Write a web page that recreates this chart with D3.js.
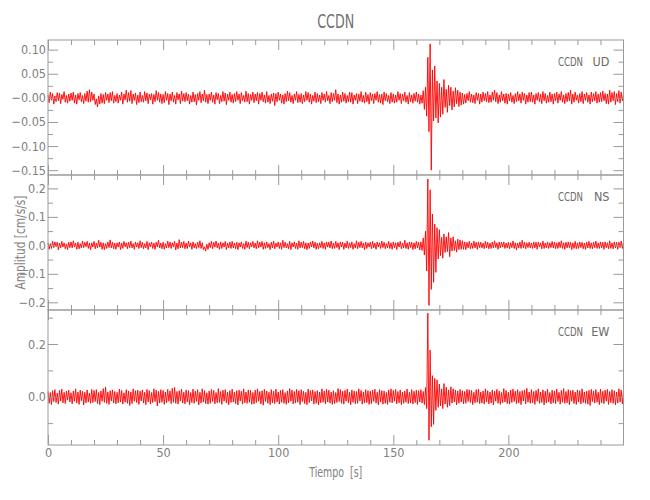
<!DOCTYPE html>
<html>
<head>
<meta charset="utf-8">
<script src="https://cdn.jsdelivr.net/npm/d3@7"></script>
<style>
  html, body { margin: 0; padding: 0; background: #fff; }
  svg { display: block; }
  text { font-family: "Liberation Sans Narrow", "Arial Narrow", "DejaVu Sans Condensed", "Liberation Sans", sans-serif; }
</style>
</head>
<body>
<svg id="chart" width="650" height="500"></svg>
<script>
// ---------------- DATA ----------------
const station = "CCDN";
const components = ["UD", "NS", "EW"];
const sampleInterval = 0.5;      // seconds between values
const valueUnit = 0.001;         // values below are in 0.001 cm/s/s
const timeDomain = [0, 250];
const xMajorTicks = [0, 50, 100, 150, 200];
const xTickLabels = ["0", "50", "100", "150", "200"];

const udValues = [
 6,-10,12,-5,9,-13,4,-8,11,-6,10,-12,7,-3,13,-9,5,-11,8,-7,
 10,-5,12,-11,6,-13,9,-4,11,-8,5,-12,9,-7,14,-9,17,-8,12,-5,
 8,-14,-2,-19,4,-13,9,-11,7,-12,11,-5,8,-10,11,-6,13,-11,5,-8,
 9,-11,6,-5,12,-13,8,-4,16,-9,11,-7,15,-12,8,-5,10,-14,6,-10,
 12,-8,5,-9,13,-6,10,-12,8,-4,9,-13,7,-8,15,-5,11,-9,8,-12,
 7,-10,13,-5,9,-14,8,-6,12,-9,5,-13,11,-4,8,-12,14,-7,9,-8,
 11,-6,8,-13,5,-9,12,-8,7,-15,9,-5,13,-10,8,-6,16,-9,7,-12,
 8,-5,12,-9,6,-13,11,-4,9,-12,5,-8,13,-7,10,-14,8,-5,12,-9,
 7,-11,9,-8,13,-5,8,-12,11,-6,5,-9,14,-8,9,-13,7,-5,12,-10,
 8,-6,11,-13,9,-5,12,-8,6,-11,13,-9,5,-12,8,-7,10,-16,9,-8,
 12,-5,8,-11,6,-13,9,-8,14,-6,11,-9,5,-12,8,-5,13,-10,7,-9,
 9,-12,6,-8,13,-5,11,-9,8,-13,5,-7,12,-10,9,-8,6,-12,11,-5,
 8,-9,13,-6,5,-12,11,-8,9,-5,17,-10,8,-13,6,-9,12,-7,9,-11,
 5,-8,12,-9,11,-13,6,-5,9,-12,8,-7,13,-9,5,-11,12,-8,7,-13,
 11,-6,8,-12,9,-5,13,-9,7,-11,8,-14,12,-6,9,-8,5,-12,11,-9,
 8,-11,6,-9,13,-5,9,-12,8,-6,12,-9,5,-13,11,-8,6,-11,9,-7,
 12,-9,8,-13,6,-11,15,-24,22,-38,84,-70,112,-150,58,-48,66,-42,35,-52,
 30,-40,22,-34,38,-20,18,-30,26,-16,22,-25,14,-19,21,-12,16,-18,12,-15,
 10,-13,7,-11,9,-6,13,-9,8,-10,6,-12,11,-5,9,-13,8,-9,12,-6,
 9,-8,13,-10,6,-9,12,-5,16,-8,11,-12,6,-9,13,-6,8,-11,9,-13,
 8,-6,11,-9,5,-12,9,-8,13,-6,8,-11,12,-5,9,-13,6,-9,11,-8,
 12,-9,6,-13,9,-5,11,-8,8,-12,13,-6,9,-11,5,-9,12,-8,8,-13,
 9,-6,12,-11,8,-5,13,-9,6,-12,9,-8,11,-6,16,-13,8,-9,12,-5,
 6,-11,9,-8,13,-12,8,-5,11,-9,6,-13,12,-8,9,-6,13,-11,8,-9,
 11,-8,14,-6,9,-12,8,-13,16,-9,11,-6,13,-14,9,-8,15,-11,12,-6,
 9
];

const nsValues = [
 9,-14,6,-11,15,-8,12,-5,11,-16,8,-9,14,-6,9,-12,5,-15,11,-8,
 12,-9,16,-6,8,-14,11,-12,6,-9,15,-8,11,-5,14,-11,8,-16,9,-6,
 14,-12,8,-9,18,-6,11,-14,9,-15,6,-11,12,-8,19,-9,11,-12,8,-14,
 9,-6,12,-15,8,-11,14,-5,9,-12,11,-8,15,-9,6,-14,12,-6,9,-11,
 16,-8,11,-12,6,-9,14,-15,9,-5,12,-11,8,-14,11,-6,18,-9,8,-12,
 11,-14,6,-9,15,-8,12,-11,9,-6,14,-16,8,-12,20,-9,11,-8,14,-12,
 8,-11,15,-6,9,-14,12,-9,6,-12,11,-8,16,-11,9,-15,-5,-20,4,-14,
 9,-8,14,-12,11,-6,15,-9,8,-14,12,-11,9,-6,14,-15,8,-9,12,-11,
 14,-9,8,-12,11,-15,9,-6,12,-11,6,-14,15,-8,11,-12,9,-5,14,-9,
 8,-12,16,-9,11,-6,14,-14,9,-11,12,-8,6,-15,11,-9,15,-12,8,-6,
 12,-11,9,-14,18,-8,11,-9,6,-12,14,-15,9,-6,12,-11,8,-14,16,-9,
 11,-8,14,-12,9,-15,8,-11,12,-6,15,-9,11,-14,8,-12,9,-8,14,-11,
 9,-14,12,-6,11,-9,15,-12,8,-11,14,-8,9,-15,12,-6,11,-14,8,-9,
 15,-11,9,-8,12,-14,6,-9,16,-12,11,-8,14,-9,8,-15,12,-11,9,-6,
 11,-12,14,-9,8,-14,12,-6,9,-11,15,-8,11,-12,6,-9,14,-11,9,-14,
 12,-8,9,-15,11,-6,14,-12,8,-9,18,-11,9,-14,12,-8,11,-15,9,-12,
 14,-9,11,-16,12,-18,26,-34,50,-90,233,-211,195,-155,110,-130,75,-95,62,-48,
 55,-36,28,-45,40,-25,30,-22,45,-40,26,-20,30,-18,16,-24,22,-15,19,-14,
 16,-14,12,-15,11,-9,14,-12,8,-11,15,-9,11,-14,12,-8,11,-9,8,-12,
 14,-9,11,-12,8,-11,12,-9,16,-8,9,-14,12,-9,11,-6,12,-11,8,-9,
 11,-12,9,-8,15,-11,9,-16,8,-9,12,-11,18,-9,11,-12,9,-8,11,-9,
 8,-11,12,-9,11,-14,12,-6,9,-12,15,-11,8,-9,12,-11,9,-8,14,-9,
 11,-12,9,-11,12,-8,16,-11,9,-14,11,-9,12,-8,11,-15,9,-11,14,-12,
 9,-11,12,-8,11,-12,8,-14,11,-9,14,-11,9,-12,11,-8,15,-11,9,-11,
 12,-9,11,-14,12,-8,9,-12,16,-11,8,-12,12,-9,11,-14,11,-8,15,-11,
 12
];

const ewValues = [
 20,-25,16,-30,23,-18,27,-22,14,-28,24,-16,29,-23,17,-26,21,-13,25,-20,
 15,-27,22,-17,30,-24,18,-29,25,-15,21,-31,17,-23,26,-20,14,-25,28,-22,
 24,-18,27,-26,16,-30,22,-17,31,-21,37,-25,18,-29,23,-16,26,-24,20,-27,
 17,-23,29,-20,24,-28,15,-21,27,-25,22,-33,18,-26,30,-17,23,-22,25,-29,
 21,-16,26,-24,17,-30,28,-20,23,-27,16,-22,30,-18,25,-35,20,-24,27,-21,
 24,-29,18,-23,28,-17,22,-26,32,-21,35,-25,20,-28,23,-16,29,-24,17,-27,
 26,-20,23,-30,16,-22,29,-25,21,-18,27,-31,17,-24,30,-20,23,-26,15,-28,
 22,-25,28,-18,24,-27,16,-23,31,-21,20,-29,25,-17,27,-24,18,-30,23,-22,
 29,-20,17,-26,23,-31,25,-16,21,-28,30,-23,18,-25,26,-21,24,-29,16,-27,
 25,-22,30,-17,20,-27,23,-32,28,-18,22,-25,17,-30,27,-23,21,-26,29,-20,
 18,-28,24,-21,27,-25,16,-29,22,-23,31,-17,25,-27,20,-24,28,-21,23,-30,
 27,-18,21,-26,17,-30,29,-22,24,-16,26,-28,20,-25,23,-31,18,-23,30,-21,
 22,-27,28,-20,25,-24,18,-29,23,-26,16,-22,31,-18,27,-25,21,-28,24,-17,
 29,-23,17,-30,26,-21,22,-27,20,-25,30,-16,24,-28,18,-24,27,-22,23,-29,
 21,-26,25,-18,29,-24,17,-31,27,-20,23,-28,22,-25,16,-29,26,-21,30,-23,
 24,-17,28,-27,20,-23,26,-30,18,-25,22,-21,29,-26,17,-24,27,-28,21,-22,
 25,-29,23,-20,27,-24,20,-30,35,-45,317,-165,177,-114,80,-105,70,-52,64,-40,
 48,-35,30,-45,50,-28,36,-40,26,-34,38,-24,30,-20,26,-31,22,-25,28,-20,
 23,-27,20,-25,28,-18,26,-22,24,-30,17,-23,27,-21,29,-26,18,-24,22,-28,
 30,-20,23,-27,18,-24,26,-31,21,-17,28,-25,22,-29,16,-23,31,-20,24,-26,
 17,-28,25,-22,29,-18,21,-26,27,-24,20,-30,23,-16,26,-27,32,-21,18,-25,
 27,-23,20,-29,24,-17,30,-25,18,-22,26,-31,21,-24,28,-20,16,-27,25,-23,
 22,-26,29,-18,17,-28,24,-21,31,-25,20,-23,27,-30,23,-17,25,-26,18,-29,
 26,-20,23,-27,30,-22,18,-25,21,-28,24,-33,28,-18,22,-24,27,-21,17,-30,
 29,-23,21,-26,25,-17,28,-29,20,-22,27,-25,23,-31,18,-24,30,-20,26,-27,
 23
];

// y-axis ranges and ticks for each component (cm/s/s)
const udDomain = [-0.160, 0.120];
const nsDomain = [-0.227, 0.247];
const ewDomain = [-0.183, 0.329];
const udMajorTicks = [-0.15, -0.10, -0.05, 0.00, 0.05, 0.10];
const udTickLabels = ["\u22120.15", "\u22120.10", "\u22120.05", "\u22120.00", "0.05", "0.10"];
const nsMajorTicks = [-0.2, -0.1, 0.0, 0.1, 0.2];
const nsTickLabels = ["\u22120.2", "\u22120.1", "0.0", "0.1", "0.2"];
const ewMajorTicks = [0.0, 0.2];
const ewTickLabels = ["0.0", "0.2"];
const udMinorStep = 0.025, nsMinorStep = 0.05, ewMinorStep = 0.1;

const titleText = "CCDN";
const xLabel = "Tiempo  [s]";
const yLabel = "Amplitud  [cm/s/s]";

// ---------------- LAYOUT ----------------
const svg = d3.select("#chart");
const left = 48, right = 623.5;
const panelEdges = [40, 175, 310, 445];
const frameColor = "#9a9a9a";
const labelColor = "#808080";
const traceColor = "#ff0000";

const x = d3.scaleLinear().domain(timeDomain).range([left, right]);
const xMinorTicks = d3.range(0, 251, 10).filter(v => v % 50 !== 0);

const panels = [
  { comp: components[0], values: udValues, domain: udDomain, major: udMajorTicks, labels: udTickLabels, minorStep: udMinorStep },
  { comp: components[1], values: nsValues, domain: nsDomain, major: nsMajorTicks, labels: nsTickLabels, minorStep: nsMinorStep },
  { comp: components[2], values: ewValues, domain: ewDomain, major: ewMajorTicks, labels: ewTickLabels, minorStep: ewMinorStep }
];

function styleAxis(g) {
  g.select(".domain").remove();
  g.selectAll(".tick line").attr("stroke", frameColor).attr("stroke-width", 1);
  g.selectAll(".tick text").attr("fill", labelColor).attr("font-size", 12.5)
    .attr("font-family", "'Liberation Sans Narrow','Arial Narrow','DejaVu Sans Condensed',sans-serif");
}

panels.forEach((p, k) => {
  const top = panelEdges[k], bottom = panelEdges[k + 1];
  const y = d3.scaleLinear().domain(p.domain).range([bottom, top]);
  const g = svg.append("g");

  // trace
  const line = d3.line()
    .x((d, i) => x(i * sampleInterval))
    .y(d => y(d * valueUnit));
  g.append("path")
    .datum(p.values)
    .attr("fill", "none")
    .attr("stroke", traceColor)
    .attr("stroke-width", 1)
    .attr("stroke-opacity", 0.9)
    .attr("stroke-linejoin", "miter")
    .attr("d", line);

  // frame
  g.append("rect")
    .attr("x", left).attr("y", top)
    .attr("width", right - left).attr("height", bottom - top)
    .attr("fill", "none").attr("stroke", frameColor).attr("stroke-width", 1);

  // y minor ticks
  const yMinor = d3.range(Math.ceil(p.domain[0] / p.minorStep) * p.minorStep, p.domain[1], p.minorStep)
    .map(v => +v.toFixed(4))
    .filter(v => !p.major.some(m => Math.abs(m - v) < 1e-6));

  const fmt = d => p.labels[p.major.indexOf(d)];
  g.append("g").attr("transform", `translate(${left},0)`)
    .call(d3.axisLeft(y).tickValues(p.major).tickFormat(fmt).tickSizeInner(-10).tickSizeOuter(0).tickPadding(2))
    .call(styleAxis);
  g.append("g").attr("transform", `translate(${left},0)`)
    .call(d3.axisLeft(y).tickValues(yMinor).tickFormat("").tickSizeInner(-5).tickSizeOuter(0))
    .call(styleAxis);
  g.append("g").attr("transform", `translate(${right},0)`)
    .call(d3.axisRight(y).tickValues(p.major).tickFormat("").tickSizeInner(-10).tickSizeOuter(0))
    .call(styleAxis);
  g.append("g").attr("transform", `translate(${right},0)`)
    .call(d3.axisRight(y).tickValues(yMinor).tickFormat("").tickSizeInner(-5).tickSizeOuter(0))
    .call(styleAxis);

  // x ticks top and bottom of each panel
  g.append("g").attr("transform", `translate(0,${top})`)
    .call(d3.axisTop(x).tickValues(xMajorTicks).tickFormat("").tickSizeInner(-10).tickSizeOuter(0))
    .call(styleAxis);
  g.append("g").attr("transform", `translate(0,${top})`)
    .call(d3.axisTop(x).tickValues(xMinorTicks).tickFormat("").tickSizeInner(-5).tickSizeOuter(0))
    .call(styleAxis);
  const isLast = k === panels.length - 1;
  g.append("g").attr("transform", `translate(0,${bottom})`)
    .call(d3.axisBottom(x).tickValues(xMajorTicks)
      .tickFormat(isLast ? (d => xTickLabels[xMajorTicks.indexOf(d)]) : "")
      .tickSizeInner(-10).tickSizeOuter(0).tickPadding(3))
    .call(styleAxis);
  g.append("g").attr("transform", `translate(0,${bottom})`)
    .call(d3.axisBottom(x).tickValues(xMinorTicks).tickFormat("").tickSizeInner(-5).tickSizeOuter(0))
    .call(styleAxis);

  // station / component label
  const ly = top + 26;
  g.append("text").attr("x", 558).attr("y", ly)
    .attr("fill", "#6a6a6a").attr("font-size", 12.5)
    .attr("textLength", 25).attr("lengthAdjust", "spacingAndGlyphs")
    .text(station);
  g.append("text").attr("x", 609.5).attr("y", ly)
    .attr("text-anchor", "end")
    .attr("fill", "#6a6a6a").attr("font-size", 12.5)
    .text(p.comp);
});

// title
svg.append("text").attr("x", (left + right) / 2).attr("y", 28)
  .attr("text-anchor", "middle").attr("fill", "#707070").attr("font-size", 20)
  .attr("textLength", 37).attr("lengthAdjust", "spacingAndGlyphs")
  .text(titleText);

// x label
svg.append("text").attr("x", (left + right) / 2).attr("y", 477)
  .attr("text-anchor", "middle").attr("fill", labelColor).attr("font-size", 14)
  .attr("textLength", 53).attr("lengthAdjust", "spacingAndGlyphs")
  .attr("xml:space", "preserve")
  .text(xLabel);

// y label
svg.append("text")
  .attr("transform", `translate(25,${(panelEdges[0] + panelEdges[3]) / 2}) rotate(-90)`)
  .attr("text-anchor", "middle").attr("fill", labelColor).attr("font-size", 14)
  .attr("textLength", 94).attr("lengthAdjust", "spacingAndGlyphs")
  .text(yLabel);
</script>
</body>
</html>
